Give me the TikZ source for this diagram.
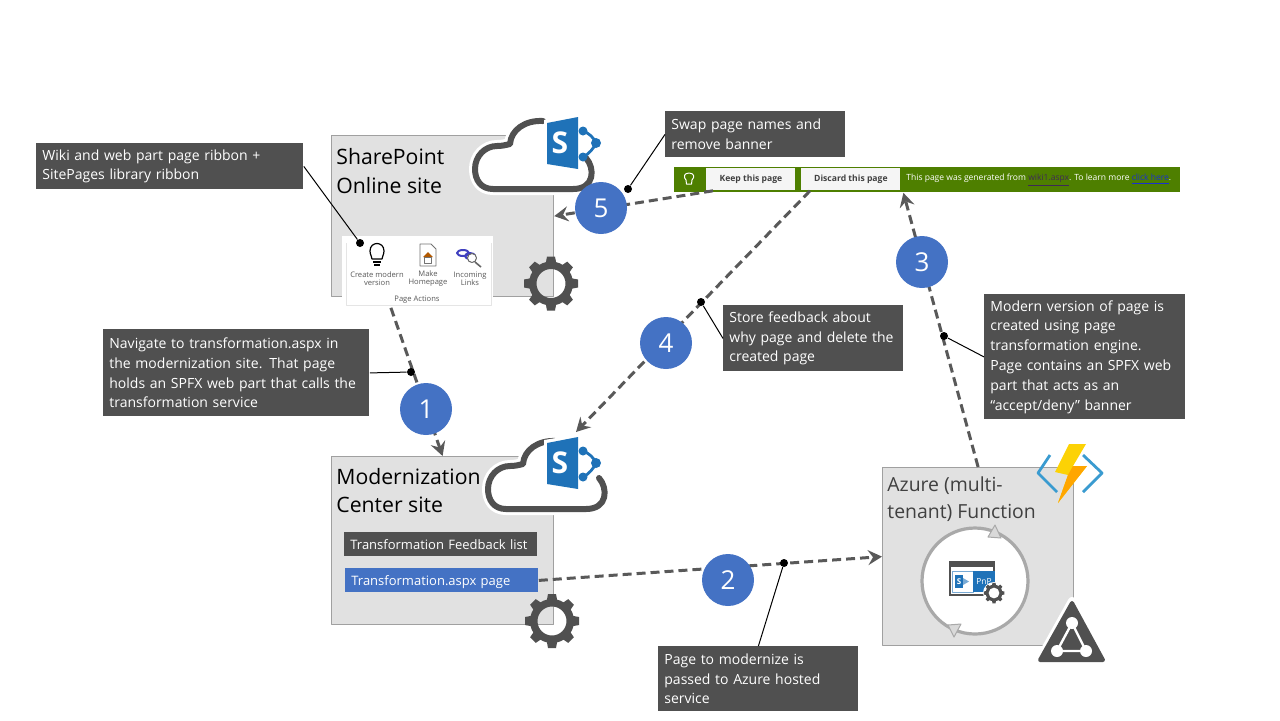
\documentclass[tikz,border=0pt]{standalone}
\usepackage{fontspec}
\setmainfont{Open Sans}
\usetikzlibrary{arrows.meta}
\definecolor{notegray}{HTML}{505050}
\definecolor{boxgray}{HTML}{E1E1E1}
\definecolor{edgegray}{HTML}{A0A0A0}
\definecolor{badgeblue}{HTML}{4472C4}
\definecolor{spblue}{HTML}{1F72B8}
\definecolor{bannergreen}{HTML}{4E7F00}
\definecolor{ringgray}{HTML}{A9A9A9}
\definecolor{chevronblue}{HTML}{3A9BD0}
\definecolor{visitedlink}{HTML}{3F2A55}
\definecolor{freshlink}{HTML}{1A2FD0}
\tikzset{
  note/.style={fill=notegray,text=white,anchor=north west,align=left,inner xsep=3pt,inner ysep=0pt,font=\fontsize{7}{9.9}\selectfont},
  sitebox/.style={draw=edgegray,fill=boxgray,line width=.6pt,anchor=north west,inner sep=0pt},
  boxtitle/.style={anchor=north west,align=left,inner sep=0pt,font=\fontsize{10.6}{14.4}\selectfont},
  badge/.style={circle,fill=badgeblue,text=white,minimum size=26pt,inner sep=0pt,font=\fontsize{13}{13}\selectfont},
  dot/.style={circle,fill=black,minimum size=4pt,inner sep=0pt},
  flow/.style={draw=notegray!95,line width=1.5pt,dash pattern=on 4.5pt off 2.5pt,-{Stealth[length=7pt,width=7.5pt,inset=2.5pt]}},
  leader/.style={draw=black,line width=.5pt},
  tinytext/.style={align=center,inner sep=0pt,text=black!65,font=\fontsize{3.8}{3.8}\selectfont},
  spcloud/.pic={
    \path[fill=white,draw=white,line width=6pt,line join=round] (113,-32) .. controls (122,-22) and (122,-1) .. (100,-1) -- (20,-1) .. controls (8,-1) and (2,-10) .. (2,-21) .. controls (2,-34) and (12,-44) .. (24,-44) .. controls (29,-44) and (33,-45) .. (37,-46) .. controls (38,-60) and (52,-70) .. (70,-69) -- (100,-60) -- cycle;
    \draw[notegray,line width=3pt,line cap=round] (113,-32) .. controls (122,-22) and (122,-1) .. (100,-1) -- (20,-1) .. controls (8,-1) and (2,-10) .. (2,-21) .. controls (2,-34) and (12,-44) .. (24,-44) .. controls (29,-44) and (33,-45) .. (37,-46) .. controls (38,-60) and (52,-70) .. (70,-69);
  },
  spicon/.pic={
    \fill[white] (71,-70) -- (107,-76) -- (107,-18) -- (71,-23) -- cycle;
    \draw[spblue,line width=1.4pt] (110,-59) .. controls (116,-57) and (121,-52) .. (123,-47) .. controls (121,-42) and (116,-36) .. (110,-33);
    \fill[spblue] (74,-67) -- (105,-73) -- (105,-21) -- (74,-26) -- cycle;
    \fill[spblue] (110,-59) circle[radius=4.5] (123,-47) circle[radius=5] (110,-33) circle[radius=4.5];
    \node[text=white,inner sep=0pt,font=\fontsize{15}{15}\bfseries\selectfont] (-letter) at (87,-47) {S};
  },
  gearwheel/.pic={
    \foreach \a in {0,45,...,315}
      \fill[notegray,rotate=\a] (-5.5,-19) -- (-4,-27) -- (4,-27) -- (5.5,-19) -- cycle;
    \fill[notegray,even odd rule] (0,0) circle[radius=22] (0,0) circle[radius=14.5];
  }
}
\begin{document}
\begin{tikzpicture}[x=.5pt,y=-.5pt,line join=round]
\useasboundingbox (0,0) rectangle (1280,720);
\coordinate (mcapex) at (576,432);

\node[sitebox,minimum width=111pt,minimum height=80.5pt] (spbox) at (331,135) {};
\node[sitebox,minimum width=111pt,minimum height=84pt] (mcbox) at (331,456) {};
\node[sitebox,minimum width=95.5pt,minimum height=89pt] (fnbox) at (882,467) {};

\node[boxtitle] (sptitle) at (336,148) {SharePoint\\Online site};
\node[boxtitle] (mctitle) at (336,467.5) {Modernization\\Center site};
\node[boxtitle,text=black!75,font=\fontsize{9.7}{13.2}\selectfont] (fntitle) at (887,476.5) {Azure (multi-\\tenant) Function};

\node[fill=white,anchor=north west,minimum width=75.5pt,minimum height=35.5pt,inner sep=0pt] (actions) at (342,236) {};
\draw[black!10,line width=.4pt] (346,243) -- (346,305) -- (491,305) -- (491,243);
\draw[line width=.6pt,fill=white] (372,259) .. controls (372,256) and (370,255) .. (370,251) .. controls (370,241) and (384,241) .. (384,251) .. controls (384,255) and (382,256) .. (382,259) -- cycle;
\draw[line width=.6pt] (373,262) -- (381,262) (374,265) -- (380,265);
\draw[black!55,line width=.4pt] (420,244) -- (431,244) -- (436,249) -- (436,266) -- (420,266) -- cycle;
\fill[orange!70!black] (428,252) -- (433,257) -- (423,257) -- cycle;
\draw[black!55,line width=.4pt] (424.5,257) rectangle (431.5,263);
\draw[blue!50!gray,line width=1pt] (463,253) ellipse[x radius=6,y radius=3] (470,256) ellipse[x radius=5,y radius=3];
\draw[black!60,line width=.5pt,fill=white] (472,258) circle[radius=4.5];
\draw[black!60,line width=.8pt] (475,262) -- (481,267);
\node[tinytext] (createlabel) at (377,278.5) {Create modern\\version};
\node[tinytext] (makelabel) at (428,278.5) {Make\\Homepage};
\node[tinytext] (linkslabel) at (470,278.5) {Incoming\\Links};
\node[tinytext] (actionslabel) at (417,300) {Page Actions};

\node[note,text width=90.5pt,minimum height=12pt,text depth=0pt,font=\fontsize{6.5}{8}\selectfont] (feedback) at (344,532) {Transformation Feedback list};
\node[note,fill=badgeblue,text width=90.5pt,minimum height=12pt,text depth=0pt,font=\fontsize{6.5}{8}\selectfont] (transpage) at (345,568) {Transformation.aspx page};

\node[anchor=north west,fill=bannergreen,minimum width=253pt,minimum height=12.5pt,inner sep=0pt] (banner) at (674,167) {};
\node[anchor=north west,fill=black!4,minimum width=44.5pt,minimum height=11pt,inner sep=0pt,font=\fontsize{4.3}{5}\bfseries\selectfont,text=black!75] (keepbtn) at (706,168) {Keep this page};
\node[anchor=north west,fill=black!4,minimum width=49.5pt,minimum height=11pt,inner sep=0pt,font=\fontsize{4.3}{5}\bfseries\selectfont,text=black!75] (discardbtn) at (801,168) {Discard this page};
\node[anchor=west,inner sep=0pt,text=white,font=\fontsize{4.26}{5}\selectfont] (bannertext) at (906,180.5) {This page was generated from \textcolor{visitedlink}{\underline{wiki1.aspx}}. To learn more \textcolor{freshlink}{\underline{click here}}.};
\draw[white,line width=.5pt] (686,180) .. controls (683,177) and (684,173) .. (689,173) .. controls (694,173) and (695,177) .. (692,180) -- (691.5,184) -- (686.5,184) -- cycle;

\draw[flow] ([xshift=-13.5pt]actions.south) -- (mcbox.north);
\draw[flow] (transpage.east) -- (fnbox.west);
\draw[flow] (fnbox.north) -- ([xshift=-12pt]banner.south);
\draw[flow] ([xshift=4.5pt]discardbtn.south west) -- (mcapex);
\draw[flow] ([xshift=3.5pt]keepbtn.south west) -- (spbox.east);

\pic at (473,190) {spcloud};
\pic (spmark) at (473,190) {spicon};
\pic at (486,510) {spcloud};
\pic (mcmark) at (473,510) {spicon};
\pic at (551,283.5) {gearwheel};
\pic at (552,621) {gearwheel};

\fill[white] (975,581) circle[radius=53];
\draw[ringgray,line width=1.6pt] (975,581) circle[radius=53];
\draw[ringgray,fill=black!15,line width=.5pt] (995,525) -- (1001,538) -- (988,537) -- cycle;
\draw[ringgray,fill=black!15,line width=.5pt] (948,625) -- (961,624) -- (954,637) -- cycle;
\fill[notegray] (949,561) rectangle (995,596);
\fill[white] (951,567) rectangle (993,594);
\draw[spblue!60,line width=.3pt] (952,571) rectangle (973,592);
\fill[spblue] (973,571) rectangle (995,592);
\fill[spblue] (955,575) rectangle (963,588);
\fill[spblue!60] (963,578) -- (969,581.5) -- (963,585) -- cycle;
\node[inner sep=0pt,text=white,font=\fontsize{4}{5}\bfseries\selectfont] (pnpS) at (959,581.5) {S};
\node[inner sep=0pt,text=white,font=\fontsize{4.2}{5}\selectfont] (pnplabel) at (984,581) {PnP};
\fill[white] (994,593) circle[radius=11];
\pic[scale=.38] at (994,593) {gearwheel};

\draw[chevronblue,line width=1.4pt] (1050,455) -- (1038,473) -- (1057,492) (1083,455) -- (1102,473) -- (1083,492);
\fill[yellow!70!orange] (1069,444) -- (1086,444) -- (1073,466) -- (1087,466) -- (1058,503) -- (1068,475) -- (1055,472) -- cycle;
\fill[orange!70!yellow] (1073,466) -- (1087,466) -- (1058,503) -- (1068,475) -- cycle;

\draw[white,fill=white,line width=4pt] (1072,601) -- (1105,662) -- (1038,662) -- cycle;
\draw[notegray,fill=notegray,line width=2pt] (1072,603) -- (1103,660) -- (1040,660) -- cycle;
\draw[white,line width=1.2pt] (1072,623) -- (1057,651) -- (1086,651) -- cycle;
\fill[white] (1072,623) circle[radius=6] (1057,651) circle[radius=6] (1086,651) circle[radius=6];

\node[badge] (one) at (426,409) {1};
\node[badge] (two) at (728,580) {2};
\node[badge] (three) at (922,262) {3};
\node[badge] (four) at (666,343) {4};
\node[badge] (five) at (601,208) {5};

\node[note,text width=127.5pt,minimum height=23pt] (ribbonnote) at (36,143) {Wiki and web part page ribbon +\\SitePages library ribbon};
\node[note,text width=127pt,minimum height=43.5pt] (navnote) at (103,329) {Navigate to transformation.aspx in\\the modernization site. That page\\holds an SPFX web part that calls the\\transformation service};
\node[note,text width=94pt,minimum height=32.5pt] (passnote) at (658,646) {Page to modernize is\\passed to Azure hosted\\service};
\node[note,text width=94.5pt,minimum height=62.5pt] (enginenote) at (984,294) {Modern version of page is\\created using page\\transformation engine.\\Page contains an SPFX web\\part that acts as an\\“accept/deny” banner};
\node[note,text width=84pt,minimum height=33pt] (storenote) at (723,305) {Store feedback about\\why page and delete the\\created page};
\node[note,text width=84pt,minimum height=23pt] (swapnote) at (665,111) {Swap page names and\\remove banner};

\node[dot] (ribbondot) at (360,243) {};
\node[dot] (navdot) at (411,372) {};
\node[dot] (passdot) at (784,563) {};
\node[dot] (enginedot) at (944,336) {};
\node[dot] (storedot) at (701,302) {};
\node[dot] (swapdot) at (628,189) {};

\draw[leader] (ribbonnote.east) -- (ribbondot);
\draw[leader] (navnote.east) -- (navdot);
\draw[leader] (passnote.north) -- (passdot);
\draw[leader] (enginenote.west) -- (enginedot);
\draw[leader] (storenote.west) -- (storedot);
\draw[leader] (swapnote.west) -- (swapdot);
\end{tikzpicture}
\end{document}
